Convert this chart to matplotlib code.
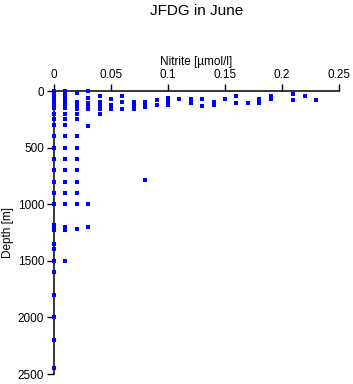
import numpy as np
import matplotlib
matplotlib.use('Agg')
import matplotlib.pyplot as plt

plt.rcParams['font.family'] = ['Liberation Sans', 'DejaVu Sans']

# nitrite levels (umol/l) and the depths (m) sampled at each level
NITRITE_LEVELS = [0.00, 0.01, 0.02, 0.03, 0.04, 0.05, 0.06, 0.07, 0.08, 0.09,
                  0.10, 0.11, 0.12, 0.13, 0.14, 0.15, 0.16, 0.17, 0.18, 0.19,
                  0.21, 0.22, 0.23]
DEPTHS = [
    [0, 10, 20, 30, 40, 50, 60, 75, 90, 100, 110, 125, 150, 200, 250, 300, 400,
     500, 600, 700, 800, 900, 1000, 1180, 1200, 1230, 1350, 1400, 1500, 1600,
     1800, 2000, 2200, 2450],
    [0, 10, 25, 40, 50, 60, 75, 90, 100, 125, 150, 200, 250, 300, 400, 500, 600,
     700, 800, 900, 1000, 1200, 1230, 1500],
    [15, 100, 110, 125, 140, 160, 200, 250, 400, 500, 600, 700, 800, 900, 1000, 1220],
    [0, 60, 110, 125, 140, 160, 310, 1000, 1200],
    [45, 100, 110, 125, 140, 160, 200],
    [75, 120, 155],
    [47, 100, 155],
    [100, 110, 125, 140, 155],
    [100, 110, 125, 140, 790],
    [76, 126],
    [65, 80, 100, 125],
    [73],
    [73, 90, 105],
    [73, 130],
    [97, 110, 125],
    [73],
    [47, 102],
    [102],
    [67, 80, 95, 110],
    [47, 60, 75],
    [29, 82],
    [47],
    [82],
]
X_TICKS = [0, 0.05, 0.1, 0.15, 0.2, 0.25]
X_TICK_LABELS = ['0', '0.05', '0.1', '0.15', '0.2', '0.25']
Y_TICKS = [0, 500, 1000, 1500, 2000, 2500]

nitrite = np.concatenate([[lv] * len(d) for lv, d in zip(NITRITE_LEVELS, DEPTHS)])
depth = np.concatenate([np.array(d, dtype=float) for d in DEPTHS])

fig = plt.figure(figsize=(3.53, 3.84), dpi=100)
ax = fig.add_axes([0.153, 0.026, 0.807, 0.737])

ax.plot(nitrite, depth, linestyle='none', marker='s', markersize=2.2,
        color='#0000ff', markeredgewidth=0, clip_on=False, zorder=3)

ax.set_xlim(0, 0.25)
ax.set_ylim(2500, 0)
ax.xaxis.tick_top()
ax.xaxis.set_label_position('top')
ax.set_xticks(X_TICKS)
ax.set_xticklabels(X_TICK_LABELS)
ax.set_yticks(Y_TICKS)
ax.tick_params(axis='both', direction='out', length=5, width=1, labelsize=8.5, pad=2)

for side in ['right', 'bottom']:
    ax.spines[side].set_visible(False)
for side in ['left', 'top']:
    ax.spines[side].set_linewidth(1.1)

ax.set_xlabel('Nitrite [µmol/l]', fontsize=8.5, labelpad=3)
ax.set_ylabel('Depth [m]', fontsize=8.5, labelpad=3)
ax.set_title('JFDG in June', fontsize=11, pad=55)

fig.savefig('out.png', dpi=100)
